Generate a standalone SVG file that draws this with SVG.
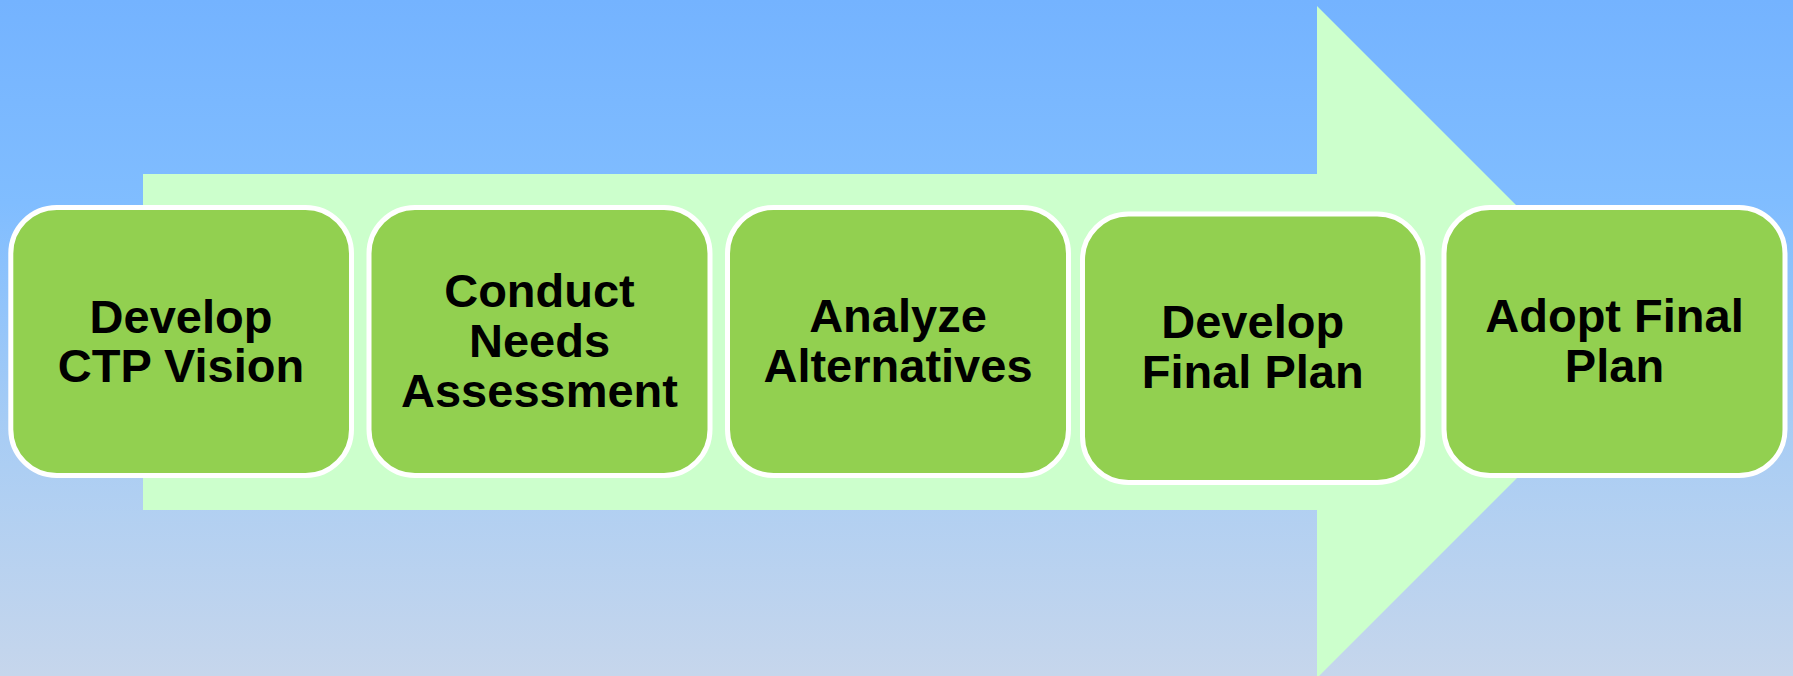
<svg xmlns="http://www.w3.org/2000/svg" width="1793" height="676" viewBox="0 0 1793 676">
  <defs>
    <linearGradient id="bg" x1="0" y1="0" x2="0" y2="1">
      <stop offset="0" stop-color="#74b3ff"/>
      <stop offset="0.3" stop-color="#80bdff"/>
      <stop offset="0.65" stop-color="#a9cdf4"/>
      <stop offset="1" stop-color="#c6d6ec"/>
    </linearGradient>
    <style>
      .box { fill: #92d050; stroke: #ffffff; stroke-width: 5; }
      .lbl { font-family: "Liberation Sans", Arial, sans-serif; font-weight: bold; font-size: 47px; fill: #000000; text-anchor: middle; }
    </style>
  </defs>
  <rect x="0" y="0" width="1793" height="676" fill="url(#bg)"/>
  <polygon id="arrow" points="143,174 1317,174 1317,6 1653,342 1317,678 1317,510 143,510" fill="#ccffcc"/>
  <g id="connectors"></g>
  <g id="node1">
    <rect class="box" x="10.8" y="207.5" width="340.7" height="268" rx="46" ry="46"/>
    <text class="lbl" x="181" y="333">Develop</text>
    <text class="lbl" x="181" y="382">CTP Vision</text>
  </g>
  <g id="node2">
    <rect class="box" x="369" y="207.5" width="341" height="268" rx="46" ry="46"/>
    <text class="lbl" x="539.5" y="306.7">Conduct</text>
    <text class="lbl" x="539.5" y="356.7">Needs</text>
    <text class="lbl" x="539.5" y="406.7">Assessment</text>
  </g>
  <g id="node3">
    <rect class="box" x="727.5" y="207.5" width="341" height="268" rx="46" ry="46"/>
    <text class="lbl" x="898" y="331.7">Analyze</text>
    <text class="lbl" x="898" y="381.7">Alternatives</text>
  </g>
  <g id="node4">
    <rect class="box" x="1082.5" y="214" width="340.5" height="268.5" rx="46" ry="46"/>
    <text class="lbl" x="1252.7" y="338">Develop</text>
    <text class="lbl" x="1252.7" y="388">Final Plan</text>
  </g>
  <g id="node5">
    <rect class="box" x="1444" y="207.5" width="341" height="268" rx="46" ry="46"/>
    <text class="lbl" x="1614.5" y="332">Adopt Final</text>
    <text class="lbl" x="1614.5" y="381.5">Plan</text>
  </g>
</svg>
